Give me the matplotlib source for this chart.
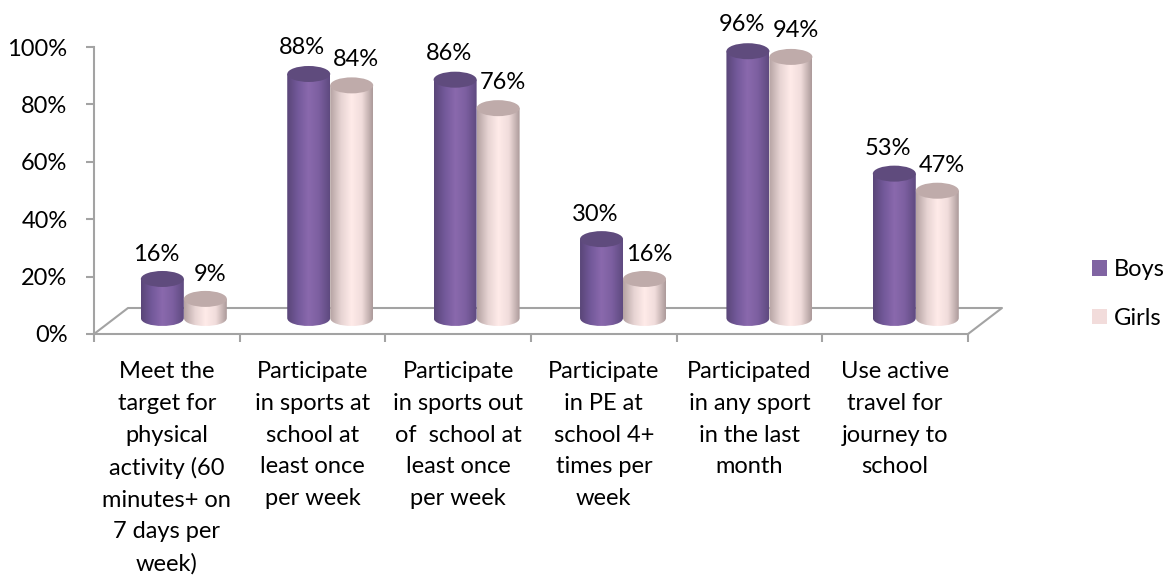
import numpy as np
import matplotlib
matplotlib.use("Agg")
import matplotlib.pyplot as plt
from matplotlib.colors import LinearSegmentedColormap
from matplotlib.patches import Ellipse, PathPatch, Patch
from matplotlib.path import Path

plt.rcParams["font.family"] = ["Lato", "DejaVu Sans"]

categories = [
    "Meet the\ntarget for\nphysical\nactivity (60\nminutes+ on\n7 days per\nweek)",
    "Participate\nin sports at\nschool at\nleast once\nper week",
    "Participate\nin sports out\nof  school at\nleast once\nper week",
    "Participate\nin PE at\nschool 4+\ntimes per\nweek",
    "Participated\nin any sport\nin the last\nmonth",
    "Use active\ntravel for\njourney to\nschool",
]
boys = [16, 88, 86, 30, 96, 53]
girls = [9, 84, 76, 16, 94, 47]
y_ticks = [0, 20, 40, 60, 80, 100]

GRID = "#a3a3a3"
FS = 17
DEPTH_X = 34 / 145.7  # floor depth, in category widths
DEPTH_Y = 26 / 2.87   # floor depth, in percent
BAR_W = 43 / 145.7
ELL_H = 16 / 2.87
SPREAD = 1.005  # groups sit slightly further apart at the back of the floor

boy_cmap = LinearSegmentedColormap.from_list(
    "boy", ["#5a4679", "#73599a", "#8a69ad", "#7c5fa0", "#5f4a80"])
girl_cmap = LinearSegmentedColormap.from_list(
    "girl", ["#b5a3a3", "#e6d3d2", "#ffebe9", "#f0dcdb", "#ad9b9b"])


def cylinder(ax, x, value, cmap, top_color):
    # centre of the cylinder sits half way into the floor
    xc = x + DEPTH_X / 2
    y0 = 5.6
    y1 = 3.3 + value * 0.992
    left, right = xc - BAR_W / 2, xc + BAR_W / 2
    verts = [(left, y1), (left, y0), (left, y0 - ELL_H * 0.67),
             (right, y0 - ELL_H * 0.67), (right, y0), (right, y1), (left, y1)]
    codes = [Path.MOVETO, Path.LINETO, Path.CURVE4, Path.CURVE4, Path.CURVE4,
             Path.LINETO, Path.CLOSEPOLY]
    body = PathPatch(Path(verts, codes), fc="none", ec="none", zorder=3)
    ax.add_patch(body)
    grad = np.linspace(0, 1, 64).reshape(1, -1)
    im = ax.imshow(grad, cmap=cmap, extent=(left, right, y0 - ELL_H, y1),
                   aspect="auto", zorder=3)
    im.set_clip_path(body)
    ax.add_patch(Ellipse((xc, y1), BAR_W, ELL_H, angle=0, fc=top_color,
                         ec="none", zorder=4, clip_on=False))


fig = plt.figure(figsize=(11.65, 5.76), dpi=100)
ax = fig.add_axes([94 / 1165, 1 - 334 / 576, 874 / 1165, 287 / 576])

x = np.arange(len(categories))
for i in x:
    pos = i * SPREAD
    cylinder(ax, pos + 0.5 - BAR_W / 2, boys[i], boy_cmap, "#5f4b7d")
    cylinder(ax, pos + 0.5 + BAR_W / 2, girls[i], girl_cmap, "#bfabaa")
    ax.text(pos + 0.425, boys[i] + 11.8, f"{boys[i]}%", ha="center", va="center",
            fontsize=FS, color="black", zorder=5, clip_on=False)
    ax.text(pos + 0.795, girls[i] + 11.8, f"{girls[i]}%", ha="center", va="center",
            fontsize=FS, color="black", zorder=5, clip_on=False)

n = len(categories)
ax.plot([0, DEPTH_X, n + DEPTH_X, n], [0, DEPTH_Y, DEPTH_Y, 0], color=GRID,
        lw=1.5, zorder=1, clip_on=False)

ax.set_xlim(0, n)
ax.set_ylim(0, 100)
ax.set_xticks(np.arange(n + 1))
ax.set_xticklabels([])
ax.set_xticks(x + 0.5, minor=True)
ax.set_xticklabels(categories, minor=True, fontsize=FS, linespacing=1.63)
ax.tick_params(axis="x", which="minor", length=0, pad=19.5)
ax.tick_params(axis="x", which="major", length=6, width=1.5, color=GRID)
ax.set_yticks(y_ticks)
ax.set_yticklabels([f"{t}%" for t in y_ticks], fontsize=FS)
ax.tick_params(axis="y", length=6, width=1.5, color=GRID, pad=13)

for s in ["top", "right"]:
    ax.spines[s].set_visible(False)
for s in ["bottom", "left"]:
    ax.spines[s].set_color(GRID)
    ax.spines[s].set_linewidth(1.5)
ax.patch.set_alpha(0)

handles = [Patch(fc="#8064a2", label="Boys"), Patch(fc="#f2dcdb", label="Girls")]
fig.legend(handles=handles, loc="center left", bbox_to_anchor=(1092 / 1165, 1 - 294 / 576),
           frameon=False, fontsize=FS, handlelength=0.63, handleheight=0.63,
           handletextpad=0.28, labelspacing=1.15, borderpad=0, borderaxespad=0)

fig.savefig("out.png", dpi=100)
